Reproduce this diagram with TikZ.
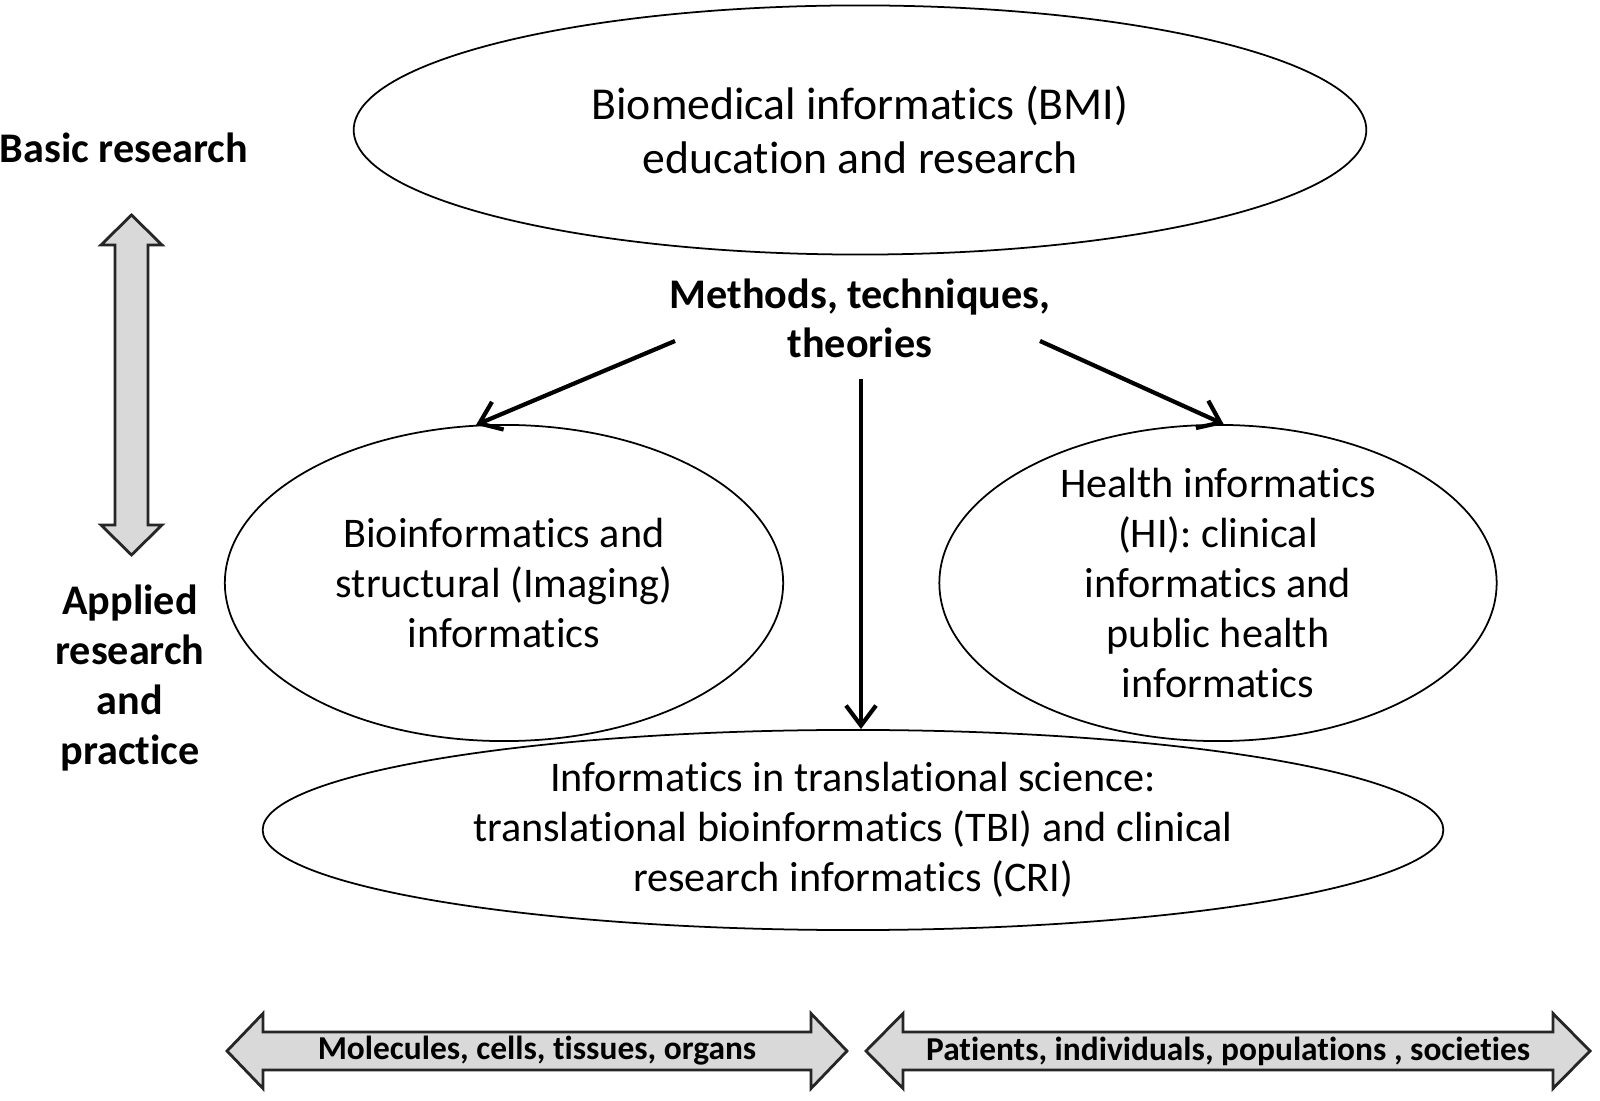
\documentclass[tikz,border=0pt]{standalone}
\usepackage{fontspec}
\setmainfont{Carlito}[Ligatures=NoCommon]
\usetikzlibrary{arrows.meta,shapes.geometric}
\newcommand{\blockFill}[0]{gray!30}

\begin{document}
\begin{tikzpicture}[x=0.01cm, y=-0.01cm]
  \tikzset{
    field/.style={draw, ellipse, line width=0.5pt, inner sep=0pt},
    fieldtext/.style={align=center, font=\fontsize{12}{14.2}\selectfont},
    sidetext/.style={align=center, font=\bfseries\fontsize{12}{14.2}\selectfont},
    conn/.style={line width=1.2pt, -{Straight Barb[length=2mm,width=3mm]}},
    block/.style={draw=black!85, fill=\blockFill, line width=0.8pt, line join=miter},
    scaletext/.style={font=\bfseries\fontsize{9.5}{11}\selectfont}
  }
  \useasboundingbox (0,0) rectangle (1600,1101);

  % ellipses
  \node[field, minimum width=10.12cm, minimum height=2.49cm] (bmi) at (860,130) {};
  \node[fieldtext, font=\fontsize{13}{15.6}\selectfont] (bmitext) at (bmi)
    {Biomedical informatics (BMI)\\education and research};
  \node[field, minimum width=5.58cm, minimum height=3.16cm] (bio) at (504,583) {};
  \node[fieldtext] (biotext) at (bio)
    {Bioinformatics and\\structural (Imaging)\\informatics};
  \node[field, minimum width=5.57cm, minimum height=3.16cm] (hi) at (1218,583) {};
  \node[fieldtext] (hitext) at (hi)
    {Health informatics\\(HI): clinical\\informatics and\\public health\\informatics};
  \node[field, minimum width=11.8cm, minimum height=2.0cm] (trans) at (853,830) {};
  \node[fieldtext] (transtext) at (trans)
    {Informatics in translational science:\\translational bioinformatics (TBI) and clinical\\research informatics (CRI)};

  % methods and arrows
  \node[sidetext, font=\bfseries\fontsize{12}{13.9}\selectfont] (methods) at (860,318)
    {Methods, techniques,\\theories};
  \coordinate (mleft) at (675,341);
  \coordinate (mmid) at (861,379);
  \coordinate (mright) at (1040,341);
  \draw[conn] (mleft) -- (bio.100);
  \draw[conn] (mmid) -- (mmid |- trans.north);
  \draw[conn] (mright) -- (hi.88);

  % left side
  \node[sidetext] (basic) at (124,148) {Basic research};
  \node[sidetext] (applied) at (130,678) {Applied\\research\\and\\practice};
  \draw[block] (131.5,215) -- (162,245) -- (148,245) -- (148,525) -- (162,525)
    -- (131.5,555) -- (101,525) -- (115,525) -- (115,245) -- (101,245) -- cycle;

  % bottom scale
  \draw[block] (227,1051) -- (263,1013.5) -- (263,1032) -- (811,1032) -- (811,1013.5)
    -- (847,1051) -- (811,1088.5) -- (811,1070) -- (263,1070) -- (263,1088.5) -- cycle;
  \draw[block] (866,1051) -- (903,1013.5) -- (903,1032) -- (1553,1032) -- (1553,1013.5)
    -- (1590,1051) -- (1553,1088.5) -- (1553,1070) -- (903,1070) -- (903,1088.5) -- cycle;
  \node[scaletext] (small) at (537,1051) {Molecules, cells, tissues, organs};
  \node[scaletext] (large) at (1228,1051) {Patients, individuals, populations , societies};
\end{tikzpicture}
\end{document}
